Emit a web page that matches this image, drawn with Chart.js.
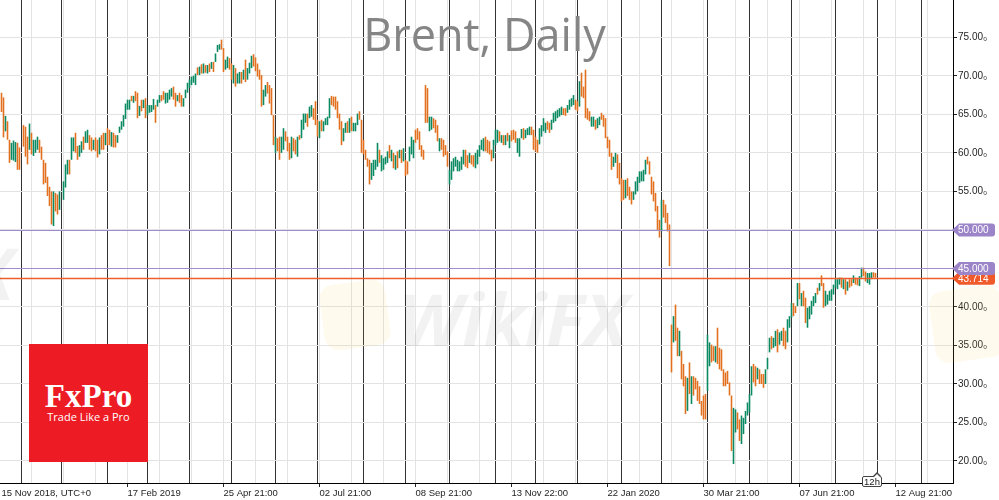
<!DOCTYPE html>
<html><head><meta charset="utf-8">
<script src="https://cdn.jsdelivr.net/npm/chart.js@4.4.1/dist/chart.umd.min.js"></script>
<style>
html,body{margin:0;padding:0;background:#fff;}
#wrap{position:relative;width:999px;height:500px;overflow:hidden;background:#fff;}
#c{position:absolute;left:0;top:0;}
.ov{position:absolute;pointer-events:none;}
#title{left:0;width:969px;top:11px;text-align:center;font-family:'Open Sans',sans-serif;font-weight:400;font-size:45px;line-height:46px;color:#858585;white-space:nowrap;}
.wmsq{background:rgba(250,205,90,0.10);border-radius:14px;}
.wmt{font-family:'Open Sans',sans-serif;font-style:italic;font-weight:700;font-size:72px;line-height:72px;color:rgba(0,0,0,0.05);white-space:nowrap;}
#fx{left:29px;top:344px;width:119px;height:118px;background:#ed1c24;}
#fx .a{position:absolute;left:0;width:100%;top:35px;text-align:center;font-family:'Liberation Serif',serif;font-weight:700;font-size:33px;line-height:34px;color:#fff;}
#fx .b{position:absolute;left:0;width:100%;top:67px;text-align:center;font-family:'Open Sans',sans-serif;font-size:11px;line-height:11px;color:#fff;}
#tf{left:862px;top:476px;width:18px;height:9px;border:1px solid #444;border-radius:2px;background:#fff;font-family:'Liberation Sans',sans-serif;font-size:9.5px;line-height:9px;text-align:center;color:#222;}
#tf:before{content:'';position:absolute;left:10px;top:-5px;border-left:4px solid transparent;border-right:4px solid transparent;border-bottom:4px solid #444;}
#tf:after{content:'';position:absolute;left:11px;top:-3px;border-left:3px solid transparent;border-right:3px solid transparent;border-bottom:3px solid #fff;}
</style></head><body>
<div id="wrap">
<canvas id="c" width="999" height="500"></canvas>
<div class="ov" id="title">Brent, Daily</div>
<div class="ov wmsq" style="left:322px;top:282px;width:66px;height:66px;transform:rotate(-8deg);"></div>
<div class="ov wmt" style="left:398px;top:282px;">WikiFX</div>
<div class="ov wmsq" style="left:932px;top:288px;width:72px;height:72px;transform:rotate(-8deg);"></div>
<div class="ov wmt" style="left:-30px;top:236px;">X</div>
<div class="ov" id="fx"><div class="a">FxPro</div><div class="b">Trade Like a Pro</div></div>
<div class="ov" id="tf">12h</div>
</div>
<script>
// ---- data (bar index = trading day, 15 Nov 2018 onwards) ----
const highs = [
67.8,67.2,64.8,64.1,61.7,61.3,61.6,61.4,61.3,60.7,
null,63.6,63.4,62.1,63.8,62.6,61.7,61.7,62.1,61.7,
60.8,59.1,58.7,56.9,55.6,55.0,55.0,54.8,54.6,55.0,
null,56.3,58.5,59.1,59.1,62.0,62.0,62.6,60.9,61.0,
61.5,62.1,62.8,63.0,62.3,62.0,61.7,62.0,61.7,62.0,
62.3,62.6,62.6,63.2,63.0,62.7,62.6,62.3,62.3,63.4,
64.1,64.9,66.4,66.9,66.9,67.4,67.4,68.0,67.8,66.1,
66.9,66.9,67.1,66.2,66.2,66.2,67.0,66.2,66.9,67.5,
67.5,68.0,67.8,67.8,68.2,68.4,68.6,67.8,67.5,67.8,
67.5,67.1,68.2,69.1,69.5,69.9,70.0,70.3,71.1,71.2,
71.5,71.6,71.4,71.4,71.6,71.8,71.8,72.9,74.0,74.1,
74.7,73.6,72.1,72.5,72.3,71.6,71.4,71.0,70.3,70.5,
70.5,70.8,72.1,71.0,71.7,72.6,72.8,72.4,71.6,70.8,
70.1,68.2,68.8,69.2,68.8,68.4,64.9,62.1,61.9,62.1,
62.1,63.2,62.8,62.1,61.3,62.1,61.9,61.7,62.1,62.3,
64.3,65.1,65.1,65.1,66.0,66.2,65.8,66.7,64.3,64.1,
64.3,64.1,64.5,64.7,67.1,67.4,67.3,67.3,66.7,65.1,
64.1,63.2,63.9,64.1,64.5,64.7,63.9,63.9,65.1,65.4,
64.3,61.7,60.4,59.3,59.1,58.7,59.1,59.1,61.3,60.4,
59.7,59.3,59.5,60.2,61.0,60.4,60.0,59.7,60.2,60.4,
60.4,60.6,59.1,58.9,60.8,62.1,61.7,63.0,63.2,62.8,
61.0,60.4,68.8,68.4,64.7,64.7,64.5,64.3,63.6,61.9,
61.9,61.7,61.0,60.2,57.8,58.9,59.3,59.5,59.1,58.9,
59.5,60.4,60.4,59.7,60.0,59.7,59.7,60.0,60.4,61.0,
61.7,61.9,62.1,61.7,61.5,60.4,61.7,63.0,63.0,62.8,
62.3,62.3,62.3,62.6,62.3,62.9,63.0,62.8,61.9,61.9,
63.1,63.2,63.0,63.2,63.4,63.4,63.0,62.1,61.7,63.2,
63.6,64.5,63.9,64.1,63.9,64.3,65.2,65.4,65.6,65.8,
66.0,65.8,65.8,66.2,66.9,67.1,67.5,66.9,66.7,69.3,
70.4,68.6,70.8,65.8,65.4,64.7,64.7,64.3,64.5,64.7,
65.2,64.9,64.5,62.1,61.7,60.0,59.5,60.0,59.8,58.7,
56.7,56.5,56.5,56.7,55.6,55.0,55.0,56.3,56.9,57.6,
57.6,57.8,59.1,59.5,58.9,56.9,56.3,54.8,53.1,51.3,
53.9,53.9,53.3,52.2,50.7,37.7,38.8,40.3,37.3,36.9,
34.3,32.6,31.0,30.8,32.8,31.0,31.0,30.8,30.4,29.7,
27.8,28.5,28.7,36.4,35.4,35.1,34.9,34.9,37.3,34.7,
34.5,31.9,31.5,31.7,30.2,28.5,26.9,26.7,26.3,25.4,
25.9,25.6,26.5,27.6,28.7,32.3,32.6,32.3,32.1,31.9,
31.3,31.3,31.9,33.4,36.0,36.2,36.0,36.9,37.1,36.7,
36.9,37.3,36.9,38.4,38.8,40.5,40.5,40.1,43.1,43.1,
41.8,42.1,41.2,39.9,40.1,40.8,41.4,41.8,42.5,43.1,
44.1,43.1,42.1,41.6,42.1,42.3,42.9,43.6,43.6,43.8,
43.8,43.6,43.6,43.3,43.6,43.6,44.1,43.8,43.7,44.0,
45.1,45.1,44.6,44.4,44.4,44.5,44.5,44.4
];
const lows = [
65.3,62.0,62.8,61.7,58.7,59.1,59.0,58.8,57.8,57.8,
null,60.8,59.5,58.5,60.4,59.8,59.6,60.0,60.4,60.0,
59.1,55.9,56.1,54.4,53.1,50.7,50.5,52.4,52.0,52.6,
null,53.9,55.5,57.2,57.2,59.1,60.2,60.0,59.1,59.5,
60.0,60.4,61.3,61.3,60.4,60.2,60.4,60.2,59.4,59.8,
60.4,60.4,61.0,61.0,61.0,60.8,60.7,60.7,61.3,62.6,
63.0,63.4,64.4,65.6,65.6,66.7,66.5,66.7,64.5,64.8,
65.4,65.8,64.5,64.9,65.2,65.3,65.6,63.9,66.0,66.5,
66.7,66.9,66.4,66.5,66.9,67.3,66.9,66.0,66.7,66.5,
66.0,66.0,67.1,67.8,68.4,68.8,69.1,68.8,70.1,70.1,
70.3,70.3,70.4,70.3,70.5,70.9,70.5,71.8,73.1,73.4,
73.4,70.5,70.8,71.0,70.8,69.5,69.0,68.6,69.0,69.0,
69.0,69.5,69.2,69.5,70.3,71.0,71.2,70.6,69.9,69.5,
66.0,66.2,67.3,67.7,66.4,64.9,61.0,60.0,60.2,59.1,
60.0,60.4,61.5,60.2,59.1,59.3,60.2,59.8,59.5,61.7,
61.9,63.0,63.9,63.4,64.5,64.7,64.3,63.6,62.1,61.9,
62.8,62.8,63.6,63.6,64.5,66.2,66.0,65.6,64.5,63.0,
61.0,61.5,62.6,62.6,62.6,62.8,62.8,62.8,63.6,64.3,
60.0,59.8,59.1,58.2,55.9,56.5,57.0,57.8,58.2,58.7,
57.6,57.8,58.5,58.7,59.3,58.9,58.0,57.8,58.0,59.3,
58.7,58.9,57.0,57.2,58.9,59.8,59.3,61.3,61.7,60.4,
59.5,59.1,63.9,63.9,62.8,63.0,63.2,62.6,61.5,60.2,
60.4,59.5,59.7,58.2,55.9,56.5,57.6,58.2,57.6,57.6,
57.8,58.5,58.2,58.0,58.7,58.5,58.2,58.0,58.5,59.5,
60.4,60.2,60.2,60.0,59.8,58.9,59.3,61.0,61.3,61.5,
61.3,61.0,61.0,61.5,60.6,61.5,61.7,61.3,60.0,59.5,
61.9,61.7,61.9,62.3,62.3,62.3,60.4,60.2,60.0,61.1,
62.1,62.8,62.6,63.0,62.6,63.0,63.9,64.1,64.5,64.7,
64.9,64.9,64.8,65.2,65.6,66.0,66.2,65.6,65.4,66.0,
67.3,67.1,64.5,64.3,64.1,63.4,63.4,63.0,63.2,63.6,
64.3,63.4,61.9,60.6,59.5,57.8,58.2,58.7,56.7,55.9,
53.7,53.9,54.1,54.4,53.9,53.3,53.9,54.6,55.0,56.1,
56.3,56.3,57.2,58.5,57.2,54.6,53.7,52.4,50.0,49.0,
49.8,51.6,50.9,49.8,45.3,31.5,35.4,35.6,33.6,33.6,
30.6,29.7,26.1,26.5,28.7,27.4,28.5,29.3,27.8,27.4,
25.9,25.4,25.4,29.1,32.3,32.8,33.0,32.8,32.6,31.9,
31.7,29.7,29.7,30.0,28.5,21.3,19.6,23.7,24.1,22.6,
22.2,23.5,24.8,25.9,26.3,28.5,30.2,29.7,30.6,30.0,
30.0,29.5,30.0,31.9,34.1,34.5,34.7,34.9,34.1,35.1,
35.6,34.9,34.5,35.4,37.3,38.6,38.8,39.2,40.1,41.0,
40.1,40.1,37.9,37.3,38.4,39.0,40.1,40.5,41.6,42.1,
42.7,39.9,40.1,40.3,40.8,40.8,41.6,42.5,42.3,42.9,
42.5,42.3,41.6,42.1,42.5,42.7,43.1,42.9,42.8,42.7,
43.8,44.0,43.3,43.1,42.9,43.6,43.8,43.8
];
// 1 = up day (green), 0 = down day (orange)
const up = [
0,0,1,0,0,1,1,1,0,0, 0,0,0,0,1,0,1,1,1,0, 0,0,0,0,0,0,1,0,0,1, 0,1,1,1,0,1,1,0,0,1,
1,0,1,1,0,0,1,0,0,1, 0,0,1,0,0,1,0,0,1,1, 1,1,1,1,1,0,1,0,0,1, 0,1,0,1,1,1,1,0,1,1,
0,0,1,1,1,1,0,0,1,0, 0,1,1,1,1,1,1,1,0,1, 0,1,0,1,0,1,0,1,1,1, 0,0,1,1,0,0,1,0,1,1,
0,1,0,1,1,1,0,0,0,0, 0,1,1,0,0,0,0,1,0,0, 1,1,0,0,0,1,0,0,1,0, 1,1,1,0,1,1,0,0,0,1,
0,1,1,1,1,0,0,0,0,0, 0,1,1,0,1,0,1,1,1,0, 0,0,0,0,0,1,1,1,1,0, 1,1,1,1,0,1,0,1,0,1,
0,1,0,0,1,1,1,0,0,0, 0,0,0,0,1,1,0,0,0,1, 0,0,0,0,1,1,1,1,1,1, 1,1,0,0,1,0,0,1,1,1,
1,1,0,0,0,0,1,1,1,0, 1,0,1,0,1,0,0,0,1,1, 1,0,1,1,1,0,0,0,0,1, 1,1,1,0,0,1,1,1,1,1,
1,0,0,1,1,1,1,0,0,1, 0,0,0,0,0,1,1,0,1,1, 0,0,0,0,0,0,1,1,0,0, 0,0,1,0,0,0,1,1,1,1,
1,1,1,0,0,0,0,0,0,0, 1,0,0,0,0,0,1,0,0,1, 0,0,0,1,0,1,0,0,0,0, 0,0,0,1,1,0,0,1,0,0,
0,0,0,0,0,0,1,1,0,0, 1,1,1,1,1,1,0,0,1,0, 0,0,1,1,1,0,1,1,0,1, 1,0,0,1,1,1,0,0,1,0,
1,0,0,1,1,1,1,1,0,1, 0,0,1,1,1,1,1,1,1,1, 0,1,0,1,0,0,1,0,0,1, 1,0,0,1,1,1,0,0
];
const monthStarts = [10,30,53,73,94,115,137,158,181,202,224,247,267,288,310,330,353,374,395,417,438,460];
const tickIdx = [0,63,111,159,207,255,303,351,399,447];
const tickLabels = ['15 Nov 2018, UTC+0','17 Feb 2019','25 Apr 21:00','02 Jul 21:00','08 Sep 21:00','13 Nov 22:00','22 Jan 2020','30 Mar 21:00','07 Jun 21:00','12 Aug 21:00'];
const yTicks = [20,25,30,35,40,45,50,55,60,65,70,75];
const levels = [50, 45];
const lastPrice = 43.714;

// ---- layout / style ----
const X_MIN = -0.75, X_MAX = 475.75, Y_MIN = 17.144, Y_MAX = 79.842;
const GREEN = '#0a8a62', ORANGE = '#e2701f', PURPLE = '#a08bcc', PURPLE_BADGE = '#9c84c8', RED = '#ec5f2c', RED_BADGE = '#f0592a';
const gridPos = [];
for (let v = 15; v < X_MAX; v += 16) gridPos.push(v);

const bars = [], barColors = [];
for (let i = 0; i < highs.length; i++) {
  if (highs[i] == null) continue;
  bars.push({x: i, y: [lows[i], highs[i]]});
  barColors.push(up[i] ? GREEN : ORANGE);
}

function badge(ctx, x0, py, color, text) {
  const h = 13, top = py - h / 2, right = 995;
  ctx.beginPath();
  ctx.moveTo(x0 - 1, py);
  ctx.lineTo(x0 + 6, top);
  ctx.lineTo(right - 3, top);
  ctx.quadraticCurveTo(right, top, right, top + 3);
  ctx.lineTo(right, top + h - 3);
  ctx.quadraticCurveTo(right, top + h, right - 3, top + h);
  ctx.lineTo(x0 + 6, top + h);
  ctx.closePath();
  ctx.fillStyle = color; ctx.fill();
  ctx.fillStyle = '#fff';
  ctx.font = '10px "Liberation Sans", sans-serif';
  ctx.textAlign = 'left'; ctx.textBaseline = 'middle';
  ctx.fillText(text, x0 + 5, py + 0.5);
}

const levelPlugin = {
  id: 'levels',
  afterDraw(chart) {
    const {ctx, chartArea: a, scales: {y}} = chart;
    ctx.save();
    const line = (v, c, w) => {
      const py = Math.round(y.getPixelForValue(v)) + 0.5;
      ctx.beginPath(); ctx.moveTo(a.left, py); ctx.lineTo(a.right, py);
      ctx.strokeStyle = c; ctx.lineWidth = w; ctx.stroke();
    };
    levels.forEach(v => line(v, PURPLE, 1));
    line(lastPrice, RED, 1.5);
    badge(ctx, a.right, y.getPixelForValue(lastPrice), RED_BADGE, lastPrice.toFixed(3));
    levels.slice().reverse().forEach(v => badge(ctx, a.right, y.getPixelForValue(v), PURPLE_BADGE, v.toFixed(3)));
    ctx.restore();
  }
};

Chart.defaults.font.family = '"Liberation Sans", Arial, sans-serif';
const hiddenX = (positions, gridColor, z) => ({
  type: 'linear', position: 'bottom', min: X_MIN, max: X_MAX, offset: false, z: z,
  afterBuildTicks: s => { s.ticks = positions.map(v => ({value: v})); },
  ticks: {display: false},
  grid: {color: gridColor, lineWidth: 1, drawTicks: false, offset: false},
  border: {display: false}
});

new Chart(document.getElementById('c'), {
  type: 'bar',
  data: {datasets: [{
    data: bars,
    backgroundColor: barColors,
    borderColor: barColors,
    barThickness: 1.6, borderWidth: 0, inflateAmount: 0, borderSkipped: false
  }]},
  options: {
    responsive: false, animation: false, maintainAspectRatio: false,
    layout: {padding: 0},
    plugins: {legend: {display: false}, tooltip: {enabled: false}, title: {display: false}, colors: {enabled: false}},
    scales: {
      x: {
        type: 'linear', position: 'bottom', min: X_MIN, max: X_MAX, offset: false,
        afterBuildTicks: s => { s.ticks = tickIdx.map(v => ({value: v})); },
        afterFit: s => { s.height = 17; s.paddingLeft = 0; s.paddingRight = 0; },
        ticks: {autoSkip: false, maxRotation: 0, minRotation: 0, align: 'start', padding: 1,
          color: '#1e1e1e', font: {size: 9.5}, callback: (v, i) => tickLabels[i]},
        grid: {drawOnChartArea: false, drawTicks: true, tickLength: 4, offset: false,
          tickColor: c => c.index === 0 ? 'rgba(0,0,0,0)' : '#222'},
        border: {display: true, color: '#000', width: 1}
      },
      xg: hiddenX(gridPos, '#e3e3e3', 0),
      xm: hiddenX(monthStarts, '#333333', 1),
      y: {
        type: 'linear', position: 'right', min: Y_MIN, max: Y_MAX,
        afterBuildTicks: s => { s.ticks = yTicks.map(v => ({value: v})); },
        afterFit: s => { s.width = 46; s.paddingTop = 0; s.paddingBottom = 0; },
        ticks: {padding: 1, color: '#1e1e1e', font: {size: 10}, callback: v => v.toFixed(2) + '\u2080'},
        grid: {color: '#e3e3e3', tickLength: 4, tickColor: '#222'},
        border: {display: true, color: '#000', width: 1}
      }
    }
  },
  plugins: [levelPlugin]
});
</script>
</body></html>
